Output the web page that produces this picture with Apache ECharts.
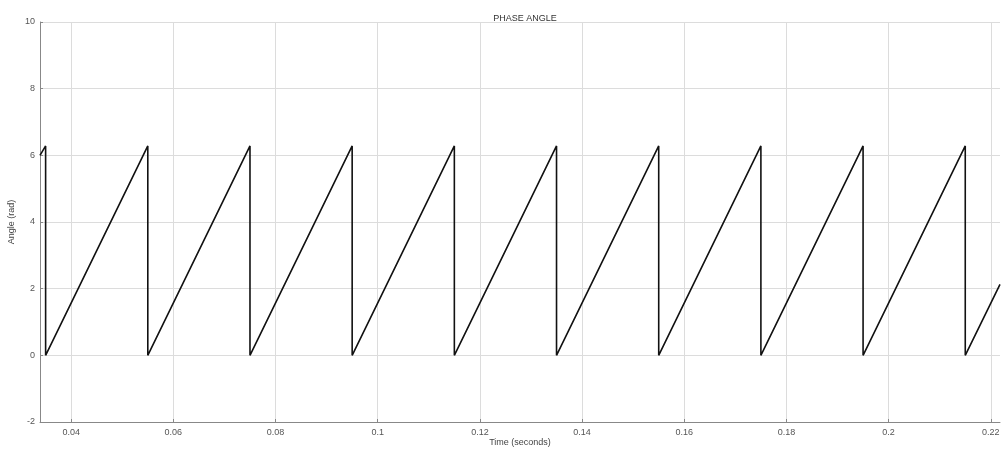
<!DOCTYPE html>
<html>
<head>
<meta charset="utf-8">
<script src="https://cdn.jsdelivr.net/npm/echarts@6/dist/echarts.min.js"></script>
<style>html,body{margin:0;padding:0;background:#fff}#c{width:1002px;height:450px}</style>
</head>
<body>
<div id="c"></div>
<script>
// Sawtooth phase angle data: (time s, angle rad)
var times  = [0.0339, 0.035, 0.035, 0.055, 0.055, 0.075, 0.075, 0.095, 0.095, 0.115, 0.115, 0.135, 0.135, 0.155, 0.155, 0.175, 0.175, 0.195, 0.195, 0.215, 0.215, 0.2218];
var angles = [6.0,    6.283, 0,     6.283, 0,     6.283, 0,     6.283, 0,     6.283, 0,     6.283, 0,     6.283, 0,     6.283, 0,     6.283, 0,     6.283, 0,     2.13];
var xTicks = [0.04, 0.06, 0.08, 0.1, 0.12, 0.14, 0.16, 0.18, 0.2, 0.22];
var yTicks = [-2, 0, 2, 4, 6, 8, 10];

var data = times.map(function(t, i){ return [t, angles[i]]; });
var chart = echarts.init(document.getElementById('c'));
var font = 'Liberation Sans, Arial, sans-serif';
chart.setOption({
  animation: false,
  backgroundColor: '#ffffff',
  title: {
    text: 'PHASE ANGLE', left: 520, top: 9, textAlign: 'center',
    textStyle: {fontFamily: font, fontSize: 9, fontWeight: 'normal', color: '#333'}
  },
  grid: {left: 40, right: 2, top: 22, bottom: 28, outerBoundsMode: 'none', containLabel: false},
  xAxis: {
    type: 'value', min: 0.0339, max: 0.2218,
    name: 'Time (seconds)', nameLocation: 'middle', nameGap: 16, nameMoveOverlap: false,
    nameTextStyle: {fontFamily: font, fontSize: 9, color: '#444'},
    axisLine: {show: true, onZero: false, lineStyle: {color: '#888', width: 1}},
    axisTick: {show: true, inside: true, length: 3, customValues: xTicks, lineStyle: {color: '#888'}},
    axisLabel: {fontFamily: font, fontSize: 9, color: '#555', margin: 6, customValues: xTicks},
    splitLine: {show: true, lineStyle: {color: '#dcdcdc', width: 1}}
  },
  yAxis: {
    type: 'value', min: yTicks[0], max: yTicks[yTicks.length-1], interval: 2,
    name: 'Angle (rad)', nameLocation: 'middle', nameGap: 24, nameRotate: 90, nameMoveOverlap: false,
    nameTextStyle: {fontFamily: font, fontSize: 9, color: '#444'},
    axisLine: {show: true, lineStyle: {color: '#888', width: 1}},
    axisTick: {show: true, inside: true, length: 3, lineStyle: {color: '#888'}},
    axisLabel: {fontFamily: font, fontSize: 9, color: '#555', margin: 5},
    splitLine: {show: true, lineStyle: {color: '#dcdcdc', width: 1}}
  },
  series: [{
    type: 'line', data: data, showSymbol: false, symbol: 'none',
    lineStyle: {color: '#111', width: 1.6}
  }]
});
</script>
</body>
</html>
